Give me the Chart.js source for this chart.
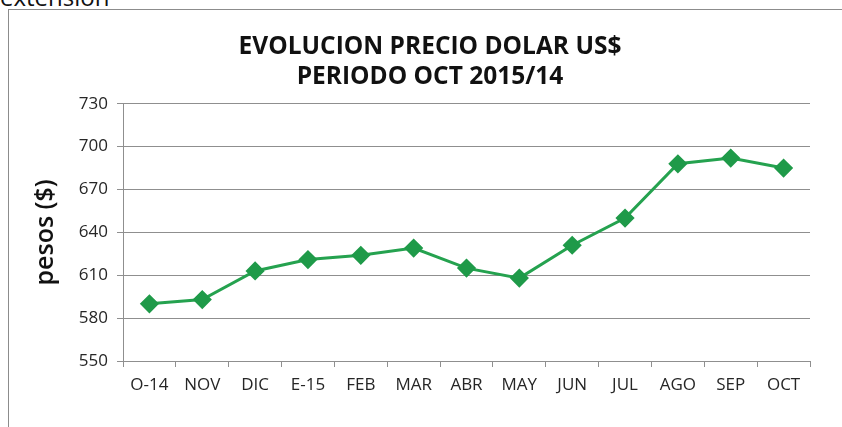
<!DOCTYPE html>
<html>
<head>
<meta charset="utf-8">
<script src="https://cdn.jsdelivr.net/npm/chart.js@4"></script>
<style>
  html, body { margin: 0; padding: 0; background: #fff; overflow: hidden; width: 842px; height: 427px; }
  #cut { position: absolute; left: 0; top: -20px; font: 24px "Open Sans", sans-serif; color: #111; }
  #box { position: absolute; left: 8px; top: 9px; width: 843px; height: 430px; border: 1px solid #8c8c8c; border-right: none; border-bottom: none; }
  #chart { position: absolute; left: 0; top: 0; }
</style>
</head>
<body>
<div id="cut">extensión</div>
<div id="box"><canvas id="chart" width="842" height="418"></canvas></div>
<script>
// precio del dolar, oct 2014 a oct 2015
var meses = ['O-14', 'NOV', 'DIC', 'E-15', 'FEB', 'MAR', 'ABR', 'MAY', 'JUN', 'JUL', 'AGO', 'SEP', 'OCT'];
var precios = [590, 593, 613, 621, 624, 629, 615, 608, 631, 650, 688, 692, 685];
var titulo = ['EVOLUCION PRECIO DOLAR US$', 'PERIODO OCT 2015/14'];

var verde = '#25a24f';
var gris = '#8f8f8f';
var fuente = '"Open Sans", sans-serif';

var ctx = document.getElementById('chart');
var grafico = new Chart(ctx, {
    type: 'line',
    data: {
        labels: meses,
        datasets: [{
            data: precios,
            borderColor: verde,
            borderWidth: 3,
            pointStyle: 'rectRot',
            pointRadius: 7.5,
            pointBackgroundColor: '#1f9a49',
            pointBorderColor: '#1f9a49',
            tension: 0
        }]
    },
    options: {
        responsive: false,
        animation: false,
        layout: { padding: 0 },
        plugins: {
            legend: { display: false },
            tooltip: { enabled: false },
            title: {
                display: true,
                text: titulo,
                color: '#111',
                font: { family: fuente, size: 24.5, weight: 'bold', lineHeight: 1.22 },
                padding: { top: 22, bottom: 12 }
            }
        },
        scales: {
            x: {
                offset: true,
                grid: { display: true, drawOnChartArea: false, offset: true, color: gris, tickLength: 6 },
                border: { color: gris },
                ticks: { color: '#262626', padding: 8, font: { family: fuente, size: 17 }, maxRotation: 0 },
                afterFit: function(s) { s.height = 67; }
            },
            y: {
                min: 550,
                max: 730,
                grid: { color: gris, tickLength: 6 },
                border: { color: gris },
                ticks: { stepSize: 30, color: '#262626', padding: 9, font: { family: fuente, size: 17 } },
                title: {
                    display: true,
                    text: 'pesos ($)',
                    color: '#111',
                    font: { family: fuente, size: 25, weight: '600' },
                    padding: { top: 22, bottom: 0 }
                },
                afterFit: function(s) { s.width = 114; }
            },
            // eje vacio a la derecha para dejar el margen
            yR: {
                position: 'right',
                grid: { display: false },
                border: { display: false },
                ticks: { display: false },
                afterFit: function(s) { s.width = 41; }
            }
        }
    }
});
</script>
</body>
</html>
